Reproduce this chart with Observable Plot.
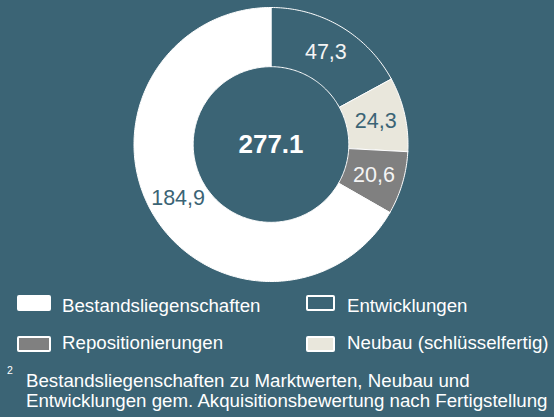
<!DOCTYPE html>
<html>
<head>
<meta charset="utf-8">
<script src="https://cdn.jsdelivr.net/npm/d3@7"></script>
<script src="https://cdn.jsdelivr.net/npm/@observablehq/plot@0.6"></script>
<style>
  html, body { margin: 0; padding: 0; }
  body {
    width: 554px; height: 417px; overflow: hidden; position: relative;
    background: #3b6475; font-family: "Liberation Sans", Arial, sans-serif; color: #ffffff;
  }
  #chart svg { display: block; background: transparent; }
  .lg-item { position: absolute; font-size: 18.7px; line-height: 18px; white-space: nowrap; }
  .sw { position: absolute; box-sizing: border-box; border-radius: 2px; }
  #note { position: absolute; left: 26px; top: 370.8px; font-size: 18.7px; line-height: 20px; white-space: nowrap; }
  #sup { position: absolute; left: 7px; top: 365px; font-size: 10.5px; line-height: 10px; }
</style>
</head>
<body>
<div id="chart"></div>
<div id="legend"></div>
<div id="sup">2</div>
<div id="note"></div>
<script>
// ---- data ----
const categories = ["Entwicklungen", "Neubau (schlüsselfertig)", "Repositionierungen", "Bestandsliegenschaften"];
const values = [47.3, 24.3, 20.6, 184.9];
const valueLabels = ["47,3", "24,3", "20,6", "184,9"];
const fills = ["#3b6475", "#e9e7dc", "#808080", "#ffffff"];
const labelColors = ["#f4f4f4", "#3b6475", "#f4f4f4", "#3b6475"];
const legendOrder = ["Bestandsliegenschaften", "Entwicklungen", "Repositionierungen", "Neubau (schlüsselfertig)"];
const noteLines = [
  "Bestandsliegenschaften zu Marktwerten, Neubau und",
  "Entwicklungen gem. Akquisitionsbewertung nach Fertigstellung"
];

// ---- geometry from data ----
const innerRatio = 0.568;
const arcs = d3.pie().sort(null).value(d => d)(values);
const poly = [];
arcs.forEach((a, i) => {
  const n = Math.max(2, Math.ceil((a.endAngle - a.startAngle) / (Math.PI / 180)));
  const pts = [];
  for (let k = 0; k <= n; k++) {
    const t = a.startAngle + (a.endAngle - a.startAngle) * k / n;
    pts.push([Math.sin(t), Math.cos(t)]);
  }
  for (let k = n; k >= 0; k--) {
    const t = a.startAngle + (a.endAngle - a.startAngle) * k / n;
    pts.push([Math.sin(t) * innerRatio, Math.cos(t) * innerRatio]);
  }
  pts.push(pts[0]);
  pts.forEach(([x, y]) => poly.push({cat: categories[i], x, y}));
});
const rMid = (1 + innerRatio) / 2;
const labelData = arcs.map((a, i) => {
  const m = (a.startAngle + a.endAngle) / 2;
  return {x: Math.sin(m) * rMid, y: Math.cos(m) * rMid, text: valueLabels[i], color: labelColors[i]};
});
const total = d3.sum(values).toFixed(1);

const cx = 270.5, cy = 144, R = 137;
const chart = Plot.plot({
  width: 554,
  height: 290,
  margin: 0,
  style: {background: "transparent", fontFamily: "Liberation Sans, Arial, sans-serif", overflow: "visible"},
  x: {domain: [-1, 1], range: [cx - R, cx + R], axis: null},
  y: {domain: [-1, 1], range: [cy + R, cy - R], axis: null},
  color: {domain: categories, range: fills},
  marks: [
    Plot.line(poly, {x: "x", y: "y", z: "cat", fill: "cat", stroke: "#ffffff", strokeWidth: 1, curve: "linear"}),
    Plot.text(labelData, {x: "x", y: "y", text: "text", fill: d => d.color, fontSize: 21.5}),
    Plot.text([total], {x: () => 0, y: () => 0, text: d => d, fill: "#ffffff", fontSize: 26, fontWeight: "bold"})
  ]
});
document.getElementById("chart").appendChild(chart);

// ---- legend ----
const legend = document.getElementById("legend");
legendOrder.forEach((cat, i) => {
  const col = i % 2, row = Math.floor(i / 2);
  const ci = categories.indexOf(cat);
  const sw = document.createElement("div");
  sw.className = "sw";
  const swLeft = col === 0 ? 17 : 305.5;
  const swW = col === 0 ? 34 : 29;
  const swTop = row === 0 ? 295 : 335.5;
  sw.style.left = swLeft + "px";
  sw.style.top = swTop + "px";
  sw.style.width = swW + "px";
  sw.style.height = "16px";
  sw.style.background = fills[ci];
  sw.style.border = "2px solid #ffffff";
  legend.appendChild(sw);
  const tx = document.createElement("div");
  tx.className = "lg-item";
  tx.style.left = (col === 0 ? 62 : 347) + "px";
  tx.style.top = (row === 0 ? 297.3 : 334.3) + "px";
  tx.textContent = cat;
  legend.appendChild(tx);
});
document.getElementById("note").innerHTML = noteLines.map(l => `<div>${l}</div>`).join("");
</script>
</body>
</html>
